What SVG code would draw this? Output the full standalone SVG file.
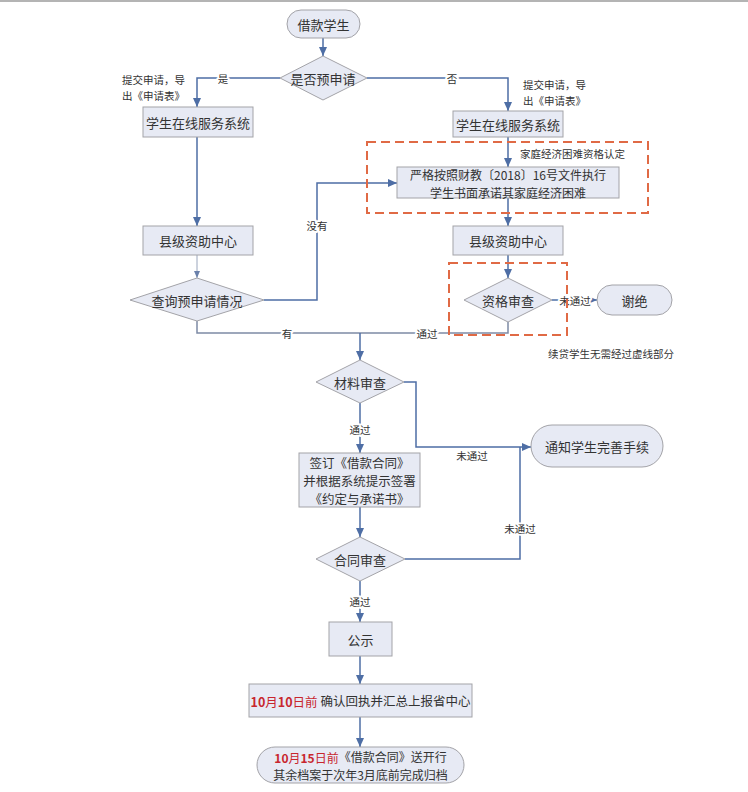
<svg xmlns="http://www.w3.org/2000/svg" width="748" height="792" viewBox="0 0 748 792">
<style>
text{font-family:"Noto Sans CJK SC","Liberation Serif",serif;fill:#333;dominant-baseline:central}
.n{font-size:13px;text-anchor:middle}
.m{font-size:12.5px;text-anchor:middle}
.m2{font-size:12px;text-anchor:middle}
.s{font-size:10.5px}
.l{font-size:10.5px;text-anchor:middle;stroke:#fff;stroke-width:4px;paint-order:stroke;stroke-linejoin:round}
.box{fill:#e7eaf4;stroke:#a3a3a8;stroke-width:1}
.c{fill:none;stroke:#4e6ea5;stroke-width:1.5}
.c2{fill:none;stroke:#7d8aa5;stroke-width:1.5}
.dash{fill:none;stroke:#e06a45;stroke-width:2;stroke-dasharray:9 5}
.red{fill:#c8262e}
.b{font-weight:bold}
</style>
<defs>
<marker id="ah" markerUnits="userSpaceOnUse" markerWidth="10" markerHeight="9" refX="9" refY="4" orient="auto">
<path d="M0,0 L9,4 L0,8 z" fill="#4e6ea5"/>
</marker>
<marker id="ahs" markerUnits="userSpaceOnUse" markerWidth="8" markerHeight="7" refX="7" refY="3" orient="auto">
<path d="M0,0 L7,3 L0,6 z" fill="#6a80aa"/>
</marker>
</defs>
<rect x="0" y="0" width="748" height="2" fill="#b4b4b4"/>

<g id="connectors">
<path class="c" d="M323,38 V56" marker-end="url(#ah)"/>
<path class="c" d="M280,78 H197 V107" marker-end="url(#ah)"/>
<path class="c" d="M367,78 H508 V111" marker-end="url(#ah)"/>
<path class="c" d="M197,137 V226" marker-end="url(#ah)"/>
<path class="c" d="M508,137 V167" marker-end="url(#ah)"/>
<path class="c" d="M508,198 V226" marker-end="url(#ah)"/>
<path fill="none" stroke="#9aa6bd" stroke-width="1" d="M197,255 V278" marker-end="url(#ahs)"/>
<path class="c" d="M508,255 V278" marker-end="url(#ah)"/>
<path class="c" d="M264,300 H317 V183 H397" marker-end="url(#ah)"/>
<path class="c" d="M552,300 H597" marker-end="url(#ah)"/>
<path class="c2" d="M197,321 V333 H508 V322"/>
<path class="c" d="M360,333 V360" marker-end="url(#ah)"/>
<path class="c" d="M404,382 H416 V447 H531" marker-end="url(#ah)"/>
<path class="c" d="M360,403 V453" marker-end="url(#ah)"/>
<path class="c" d="M360,507 V537" marker-end="url(#ah)"/>
<path class="c" d="M405,559 H520 V447"/>
<path class="c" d="M360,581 V622" marker-end="url(#ah)"/>
<path class="c" d="M360,656 V684" marker-end="url(#ah)"/>
<path class="c" d="M360,717 V747" marker-end="url(#ah)"/>
<text class="l" x="223" y="78">是</text>
<text class="l" x="452" y="78">否</text>
<text class="l" x="317" y="225">没有</text>
<text class="l" x="575" y="300">未通过</text>
<text class="l" x="287" y="333">有</text>
<text class="l" x="427" y="333">通过</text>
<text class="l" x="472" y="455">未通过</text>
<text class="l" x="360" y="429">通过</text>
<text class="l" x="520" y="528">未通过</text>
<text class="l" x="360" y="601">通过</text>
</g>

<g id="dashed-regions">
<rect class="dash" x="367" y="142" width="281" height="71"/>
<rect class="dash" x="449" y="263" width="118" height="72"/>
<text class="s" x="520" y="153">家庭经济困难资格认定</text>
<text class="s" x="548" y="353">续贷学生无需经过虚线部分</text>
</g>

<g id="notes">
<text class="s" x="122" y="79">提交申请，导<tspan x="122" dy="15.5">出《申请表》</tspan></text>
<text class="s" x="523" y="84">提交申请，导<tspan x="523" dy="15.5">出《申请表》</tspan></text>
</g>

<g id="n-start"><rect class="box" x="287" y="10" width="73" height="28" rx="14"/><text class="n" x="323.5" y="24">借款学生</text></g>
<g id="n-pre"><polygon class="box" points="323,56 367,78 323,100 280,78"/><text class="n" x="323" y="78">是否预申请</text></g>
<g id="n-sys-l"><rect class="box" x="143" y="107" width="110" height="30"/><text class="n" x="198" y="122">学生在线服务系统</text></g>
<g id="n-sys-r"><rect class="box" x="453" y="111" width="110" height="26"/><text class="n" x="508" y="124">学生在线服务系统</text></g>
<g id="n-promise"><rect class="box" x="397" y="167" width="222" height="31"/><text class="m2" x="508" y="174">严格按照财教〔2018〕16号文件执行<tspan x="508" dy="17.5">学生书面承诺其家庭经济困难</tspan></text></g>
<g id="n-county-l"><rect class="box" x="143" y="226" width="110" height="29"/><text class="n" x="198" y="240.5">县级资助中心</text></g>
<g id="n-county-r"><rect class="box" x="453" y="226" width="110" height="29"/><text class="n" x="508" y="240.5">县级资助中心</text></g>
<g id="n-query"><polygon class="box" points="197,278 264,300 197,321 130,300"/><text class="n" x="197" y="300">查询预申请情况</text></g>
<g id="n-qual"><polygon class="box" points="508,278 552,300 508,322 464,300"/><text class="n" x="508" y="300">资格审查</text></g>
<g id="n-reject"><rect class="box" x="597" y="285" width="75" height="30" rx="15"/><text class="n" x="634.5" y="300">谢绝</text></g>
<g id="n-material"><polygon class="box" points="360,360 404,382 360,403 316,382"/><text class="n" x="360" y="382">材料审查</text></g>
<g id="n-notify"><rect class="box" x="531" y="425" width="132" height="42" rx="21"/><text class="n" x="597" y="446">通知学生完善手续</text></g>
<g id="n-sign"><rect class="box" x="299" y="453" width="121" height="54"/><text class="m" x="359.5" y="462">签订《借款合同》<tspan x="359.5" dy="18">并根据系统提示签署</tspan><tspan x="359.5" dy="18">《约定与承诺书》</tspan></text></g>
<g id="n-contract"><polygon class="box" points="360,537 405,559 360,581 316,559"/><text class="n" x="360" y="559">合同审查</text></g>
<g id="n-public"><rect class="box" x="329" y="622" width="63" height="34"/><text class="n" x="360.5" y="639">公示</text></g>
<g id="n-report"><rect class="box" x="249" y="684" width="223" height="33"/><text class="m" x="360.5" y="700.5"><tspan class="red b">10</tspan><tspan class="red">月</tspan><tspan class="red b">10</tspan><tspan class="red">日前</tspan> 确认回执并汇总上报省中心</text></g>
<g id="n-archive"><rect class="box" x="257" y="747" width="207" height="36" rx="18"/><text class="m2" x="360.5" y="756.5"><tspan class="red b">10</tspan><tspan class="red">月</tspan><tspan class="red b">15</tspan><tspan class="red">日前</tspan>《借款合同》送开行<tspan x="360.5" dy="17.5">其余档案于次年3月底前完成归档</tspan></text></g>
</svg>
